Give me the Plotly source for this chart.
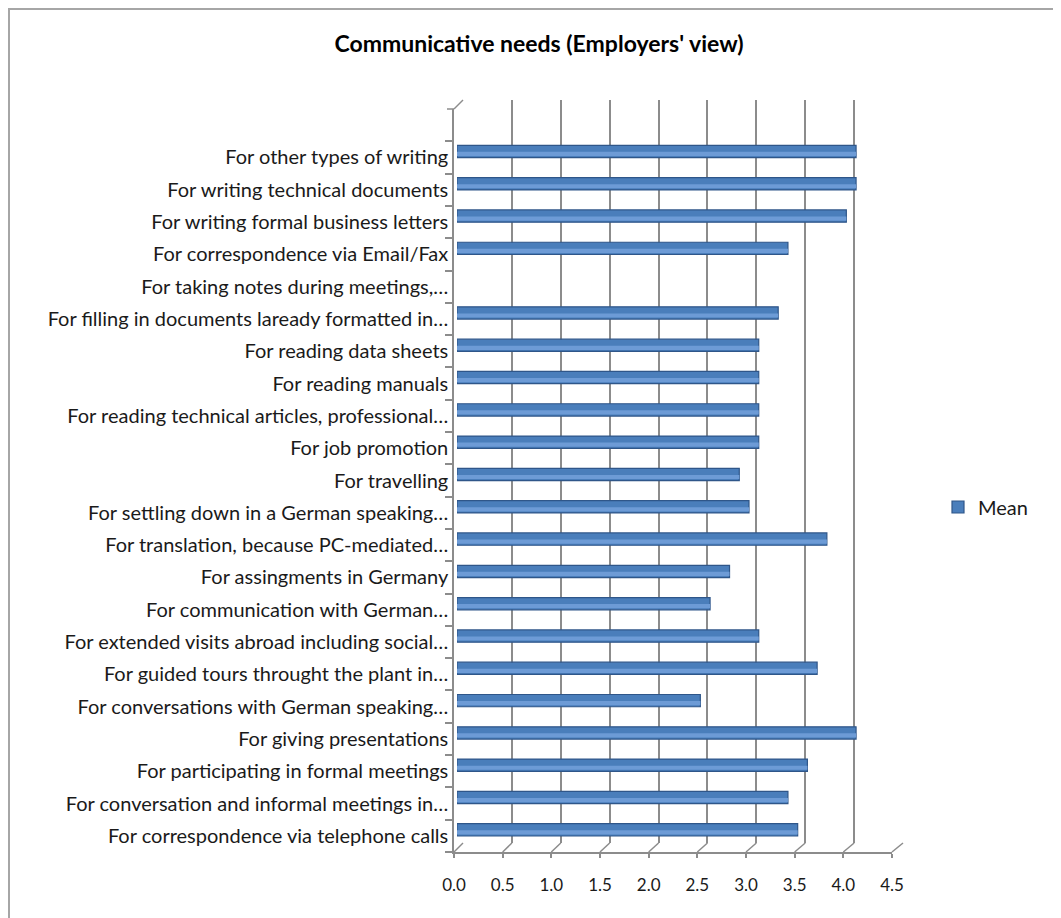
import plotly.graph_objects as go

# The page body adds an 8px margin, so the figure is drawn 8px in from the corner.
OFF = 8
W, H = 1061 - OFF, 918 - OFF

# ---- data (bottom -> top, as in the chart) ----
categories = [
    "For correspondence via telephone calls",
    "For conversation and informal meetings in…",
    "For participating in formal meetings",
    "For giving presentations",
    "For conversations with German speaking…",
    "For guided tours throught the plant in…",
    "For extended visits abroad including social…",
    "For communication with German…",
    "For assingments in Germany",
    "For translation, because PC-mediated…",
    "For settling down in a German speaking…",
    "For travelling",
    "For job promotion",
    "For reading technical articles, professional…",
    "For reading manuals",
    "For reading data sheets",
    "For filling in documents laready formatted in…",
    "For taking notes during meetings,…",
    "For correspondence via Email/Fax",
    "For writing formal business letters",
    "For writing technical documents",
    "For other types of writing",
]
mean_values = [3.5, 3.4, 3.6, 4.1, 2.5, 3.7, 3.1, 2.6, 2.8, 3.8, 3.0,
               2.9, 3.1, 3.1, 3.1, 3.1, 3.3, None, 3.4, 4.0, 4.1, 4.1]
x_ticks = [0.0, 0.5, 1.0, 1.5, 2.0, 2.5, 3.0, 3.5, 4.0, 4.5]
series_name = "Mean"
title_text = "Communicative needs (Employers' view)"

FONT = "Lato, Carlito, Calibri, sans-serif"
TXT = "#1a1a1a"
GRID = "#8c8c8c"
XMAX = 4.5
YR = [-0.5, 22.5]


def px(x):
    return (x - OFF) / W


def py(y):
    return 1 - (y - OFF) / H


# front (floor edge / labels) axis geometry, page pixels
FX0, FX1, FY0, FY1 = 454, 892, 852, 109
# back wall
BX0, BX1, BY0, BY1 = 463, 903, 843, 100
# bars (mid-depth)
RX0, RX1, RY0, RY1 = 457, 895, 846, 103

fig = go.Figure()

fig.add_trace(go.Scatter(x=[None], y=[None], xaxis="x2", yaxis="y2",
                         showlegend=False, hoverinfo="skip"))
fig.add_trace(go.Scatter(x=[None] * len(categories), y=categories, xaxis="x", yaxis="y",
                         mode="markers", showlegend=False, hoverinfo="skip"))

fig.add_trace(go.Bar(
    x=mean_values, y=categories, orientation="h", name=series_name,
    xaxis="x3", yaxis="y3", width=0.38,
    marker=dict(color="#4a7ebb", line=dict(color="#2f5689", width=1.2)),
    showlegend=True,
))
fig.add_trace(go.Bar(
    x=mean_values, y=categories, orientation="h", name=series_name,
    xaxis="x4", yaxis="y4", width=0.13,
    marker=dict(color="#6d9bd6", line=dict(width=0)),
    showlegend=False, hoverinfo="skip",
))

common_hidden = dict(showgrid=False, zeroline=False, showticklabels=False,
                     ticks="", showline=False, fixedrange=True)

fig.update_layout(
    width=W, height=H, template="none",
    margin=dict(l=0, r=0, t=0, b=0),
    paper_bgcolor="white", plot_bgcolor="rgba(0,0,0,0)",
    font=dict(family=FONT, color=TXT, size=20),
    barmode="overlay",
    title=dict(text="<b>" + title_text + "</b>", x=px(539), y=py(44),
               xanchor="center", yanchor="middle",
               font=dict(family=FONT, size=23, color="#000000")),
    xaxis=dict(domain=[px(FX0), px(FX1)], range=[0, XMAX], anchor="y",
               tickvals=x_ticks, ticktext=[f"{v:.1f}" for v in x_ticks],
               ticks="outside", ticklen=4, tickcolor=GRID, tickwidth=1.5,
               showline=True, linecolor=GRID, linewidth=1.5,
               showgrid=False, zeroline=False, ticklabelstandoff=13,
               tickfont=dict(size=17, color=TXT), automargin=False),
    yaxis=dict(domain=[py(FY0), py(FY1)], type="category",
               categoryorder="array", categoryarray=categories, range=YR,
               anchor="x", ticks="outside", ticklen=7, tickson="boundaries",
               tickcolor=GRID, tickwidth=1.5, showline=True, linecolor=GRID,
               linewidth=1.5, showgrid=False, zeroline=False,
               tickfont=dict(size=20, color=TXT), automargin=False),
    xaxis2=dict(domain=[px(BX0), px(BX1)], range=[0, XMAX], anchor="y2",
                tickvals=x_ticks, showgrid=True, gridcolor=GRID, gridwidth=1.6,
                zeroline=False, showticklabels=False, ticks="", showline=False),
    yaxis2=dict(domain=[py(BY0), py(BY1)], range=[0, 1], anchor="x2",
                **common_hidden),
    xaxis3=dict(domain=[px(RX0), px(RX1)], range=[0, XMAX], anchor="y3", **common_hidden),
    yaxis3=dict(domain=[py(RY0), py(RY1)], type="category",
                categoryorder="array", categoryarray=categories, range=YR,
                anchor="x3", **common_hidden),
    xaxis4=dict(domain=[px(RX0), px(RX1)], range=[0, XMAX], anchor="y4", **common_hidden),
    yaxis4=dict(domain=[py(RY0 + 2.5), py(RY1 + 2.5)], type="category",
                categoryorder="array", categoryarray=categories, range=YR,
                anchor="x4", **common_hidden),
    legend=dict(x=px(938), y=py(507), xanchor="left", yanchor="middle",
                bgcolor="rgba(0,0,0,0)", font=dict(size=20, color=TXT),
                itemwidth=30),
    showlegend=True,
)

shapes = []
for v in x_ticks:
    fx = FX0 + v / XMAX * (FX1 - FX0)
    bx = BX0 + v / XMAX * (BX1 - BX0)
    shapes.append(dict(type="line", xref="paper", yref="paper",
                       x0=px(fx), y0=py(FY0), x1=px(bx), y1=py(BY0),
                       line=dict(color=GRID, width=1.5)))
shapes.append(dict(type="line", xref="paper", yref="paper",
                   x0=px(FX0), y0=py(FY1), x1=px(BX0), y1=py(BY1),
                   line=dict(color=GRID, width=1.5)))
shapes.append(dict(type="line", xref="paper", yref="paper",
                   x0=px(FX0 - 7), y0=py(FY1), x1=px(FX0), y1=py(FY1),
                   line=dict(color=GRID, width=1.5)))
# chart-area border (left and top edges visible)
shapes.append(dict(type="rect", xref="paper", yref="paper",
                   x0=px(9), y0=-0.05, x1=1.05, y1=py(9),
                   line=dict(color="#a6a6a6", width=2), layer="below"))
fig.update_layout(shapes=shapes)

fig.write_html("out.html")
